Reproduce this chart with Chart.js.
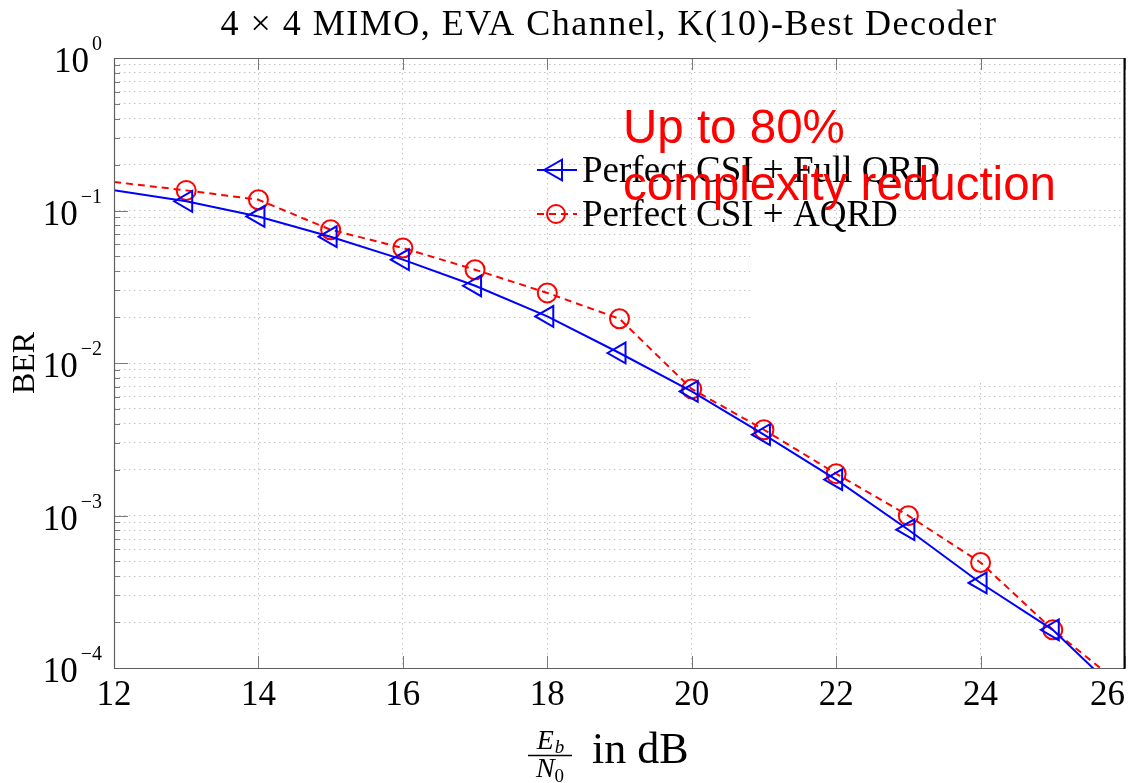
<!DOCTYPE html>
<html><head><meta charset="utf-8">
<script src="https://cdn.jsdelivr.net/npm/chart.js@4.4.1/dist/chart.umd.min.js"></script>
<style>html,body{margin:0;padding:0;background:#fff;} canvas{display:block;}</style>
</head><body>
<canvas id="c" width="1130" height="783"></canvas>
<script>
// ---- data ----
const snrDb = [12, 13, 14, 15, 16, 17, 18, 19, 20, 21, 22, 23, 24, 25, 26];
const berFullQrd = [0.136, 0.1148, 0.0914, 0.0673, 0.0476, 0.0321, 0.0202, 0.01163, 0.00651, 0.00339, 0.00172, 0.000807, 0.000361, 0.000178, 0.000063];
const berAqrd    = [0.1538, 0.1355, 0.1177, 0.0748, 0.0568, 0.0409, 0.0288, 0.0195, 0.00676, 0.00365, 0.00188, 0.000997, 0.000492, 0.000178, 0.000074];
const xTickValues = [12, 14, 16, 18, 20, 22, 24, 26];
const yDecades = [0, -1, -2, -3, -4];
const seriesLabels = ['Perfect CSI + Full QRD', 'Perfect CSI + AQRD'];
const chartTitle = '4 \u00D7 4 MIMO, EVA Channel, K(10)-Best Decoder';
const yAxisTitle = 'BER';
const xAxisUnit = 'in dB';
const annotationLines = ['Up to 80%', 'complexity reduction'];

const serif = "'Liberation Serif', 'Times New Roman', serif";
const sans = "'Liberation Sans', Arial, sans-serif";
const BLUE = '#0000ff', RED = '#ff0000';

const lastIdx = snrDb.length - 1;
const markerRadius = (r) => (c) => (c.dataIndex === 0 || c.dataIndex === lastIdx) ? 0 : r;

function drawTriangleLeft(ctx, cx, cy, r) {
  ctx.beginPath();
  for (let k = 0; k < 3; k++) {
    const a = -Math.PI / 2 + k * 2 * Math.PI / 3;
    const px = cx + Math.sin(a) * r, py = cy - Math.cos(a) * r;
    if (k === 0) ctx.moveTo(px, py); else ctx.lineTo(px, py);
  }
  ctx.closePath(); ctx.stroke();
}
function drawCircle(ctx, cx, cy, r) {
  ctx.beginPath(); ctx.arc(cx, cy, r, 0, Math.PI * 2); ctx.stroke();
}

const decor = {
  id: 'decor',
  beforeDatasetsDraw(chart) {
    const { ctx, chartArea: a } = chart;
    ctx.save();
    ctx.fillStyle = '#fff';
    ctx.fillRect(750, 228, a.right - 1 - 750, 383 - 228);
    ctx.restore();
  },
  afterDatasetsDraw(chart) {
    const { ctx, chartArea: a, scales: { x, y } } = chart;
    ctx.save();
    // inner tick marks
    ctx.strokeStyle = '#7a7a7a'; ctx.lineWidth = 1;
    y.ticks.forEach(t => {
      const py = Math.round(y.getPixelForValue(t.value)) + 0.5;
      const lg = Math.log10(t.value);
      const major = Math.abs(lg - Math.round(lg)) < 1e-9;
      ctx.beginPath(); ctx.moveTo(a.left, py); ctx.lineTo(a.left + (major ? 14 : 6), py); ctx.stroke();
    });
    x.ticks.forEach(t => {
      const px = Math.round(x.getPixelForValue(t.value)) + 0.5;
      ctx.beginPath();
      ctx.moveTo(px, a.bottom); ctx.lineTo(px, a.bottom - 12);
      ctx.moveTo(px, a.top); ctx.lineTo(px, a.top + 12);
      ctx.stroke();
    });
    // box
    ctx.strokeStyle = '#606060'; ctx.lineWidth = 1.2;
    ctx.beginPath();
    ctx.moveTo(a.left + 0.5, a.top + 0.5); ctx.lineTo(a.right, a.top + 0.5);
    ctx.moveTo(a.left + 0.5, a.top); ctx.lineTo(a.left + 0.5, a.bottom + 0.5);
    ctx.lineTo(a.right, a.bottom + 0.5);
    ctx.stroke();
    ctx.strokeStyle = '#000'; ctx.lineWidth = 2;
    ctx.beginPath(); ctx.moveTo(a.right - 0.5, a.top); ctx.lineTo(a.right - 0.5, a.bottom + 1); ctx.stroke();

    // y tick labels 10^k
    ctx.fillStyle = '#000'; ctx.textAlign = 'left'; ctx.textBaseline = 'alphabetic';
    yDecades.forEach(k => {
      const py = y.getPixelForValue(Math.pow(10, k));
      const expTxt = k === 0 ? '0' : '\u2212' + Math.abs(k);
      ctx.font = `20px ${serif}`;
      const ew = ctx.measureText(expTxt).width;
      const ex = 102 - ew;
      ctx.fillText(expTxt, ex, py - 8);
      ctx.font = `35px ${serif}`;
      const bw = ctx.measureText('10').width;
      ctx.fillText('10', ex - 3 - bw, py + 14);
    });
    // x tick labels
    ctx.font = `35px ${serif}`;
    x.ticks.forEach(t => {
      const px = x.getPixelForValue(t.value);
      const s = String(t.value);
      const w = ctx.measureText(s).width;
      const lx = Math.min(px - w / 2, a.right - w);
      ctx.fillText(s, lx, 705);
    });

    // title
    ctx.font = `36px ${serif}`;
    if ('letterSpacing' in ctx) ctx.letterSpacing = '1.5px';
    ctx.textAlign = 'center';
    ctx.fillText(chartTitle, 609, 35);
    if ('letterSpacing' in ctx) ctx.letterSpacing = '0px';

    // y axis title
    ctx.save();
    ctx.translate(26, 363); ctx.rotate(-Math.PI / 2);
    ctx.font = `32px ${serif}`; ctx.textAlign = 'center'; ctx.textBaseline = 'middle';
    ctx.fillText(yAxisTitle, 0, 0);
    ctx.restore();

    // x axis title: Eb/N0 in dB
    ctx.textAlign = 'left';
    const fx0 = 528, fx1 = 572, fc = (fx0 + fx1) / 2;
    ctx.font = `italic 28px ${serif}`; const wE = ctx.measureText('E').width;
    ctx.font = `italic 19px ${serif}`; const wb = ctx.measureText('b').width;
    let sx = fc - (wE + wb) / 2;
    ctx.font = `italic 28px ${serif}`; ctx.fillText('E', sx, 749);
    ctx.font = `italic 19px ${serif}`; ctx.fillText('b', sx + wE + 1, 753);
    ctx.font = `italic 28px ${serif}`; const wN = ctx.measureText('N').width;
    ctx.font = `19px ${serif}`; const w0 = ctx.measureText('0').width;
    sx = fc - (wN + w0) / 2;
    ctx.font = `italic 28px ${serif}`; ctx.fillText('N', sx, 777);
    ctx.font = `19px ${serif}`; ctx.fillText('0', sx + wN, 782);
    ctx.strokeStyle = '#000'; ctx.lineWidth = 1.3;
    ctx.beginPath(); ctx.moveTo(fx0, 755.5); ctx.lineTo(fx1, 755.5); ctx.stroke();
    ctx.font = `44px ${serif}`;
    ctx.fillText(xAxisUnit, 592, 763);

    // legend
    const ds = chart.data.datasets;
    const rows = [170, 214];
    ds.forEach((d, i) => {
      const ly = rows[i];
      ctx.strokeStyle = d.borderColor; ctx.lineWidth = 2;
      ctx.setLineDash(d.borderDash || []);
      ctx.beginPath(); ctx.moveTo(537, ly); ctx.lineTo(577, ly); ctx.stroke();
      ctx.setLineDash([]);
      if (d.pointStyle === 'triangle') drawTriangleLeft(ctx, 556, ly, 12);
      else drawCircle(ctx, 556, ly, 9);
      ctx.fillStyle = '#000'; ctx.font = `37px ${serif}`;
      ctx.fillText(d.label, 582, ly + 12);
    });

    // annotation
    ctx.fillStyle = RED; ctx.font = `47.5px ${sans}`;
    ctx.fillText(annotationLines[0], 623, 143);
    ctx.fillText(annotationLines[1], 623, 200);
    ctx.restore();
  }
};

new Chart(document.getElementById('c'), {
  type: 'line',
  data: {
    datasets: [
      {
        label: seriesLabels[0],
        data: snrDb.map((v, i) => ({ x: v, y: berFullQrd[i] })),
        borderColor: BLUE, backgroundColor: 'rgba(0,0,0,0)', borderWidth: 2,
        pointStyle: 'triangle', pointRotation: -90, pointRadius: markerRadius(12),
        pointBorderColor: BLUE, pointBackgroundColor: 'rgba(0,0,0,0)', pointBorderWidth: 2,
        tension: 0
      },
      {
        label: seriesLabels[1],
        data: snrDb.map((v, i) => ({ x: v, y: berAqrd[i] })),
        borderColor: RED, backgroundColor: 'rgba(0,0,0,0)', borderWidth: 2, borderDash: [7, 5],
        pointStyle: 'circle', pointRadius: markerRadius(9.5),
        pointBorderColor: RED, pointBackgroundColor: 'rgba(0,0,0,0)', pointBorderWidth: 2,
        tension: 0
      }
    ]
  },
  options: {
    responsive: false, animation: false, events: [], devicePixelRatio: 1,
    layout: { padding: { top: 58, right: 5, left: 0, bottom: 0 } },
    plugins: { legend: { display: false }, title: { display: false }, tooltip: { enabled: false } },
    scales: {
      x: {
        type: 'linear', min: 12, max: 26,
        afterBuildTicks: (s) => { s.ticks = xTickValues.map(v => ({ value: v })); },
        afterFit: (s) => { s.height = 115; },
        ticks: { display: false },
        grid: { color: '#c4c4c4', lineWidth: 1, drawTicks: false },
        border: { display: false, dash: [1.5, 3.5] }
      },
      y: {
        type: 'logarithmic', min: 1e-4, max: 1,
        afterBuildTicks: (s) => {
          const t = [];
          yDecades.slice().reverse().forEach(k => {
            for (let m = 1; m <= 9; m++) { const v = m * Math.pow(10, k); if (v <= 1.0000001) t.push({ value: v }); }
          });
          s.ticks = t;
        },
        afterFit: (s) => { s.width = 114; },
        ticks: { display: false },
        grid: { color: '#c4c4c4', lineWidth: 1, drawTicks: false },
        border: { display: false, dash: [1.5, 3.5] }
      }
    }
  },
  plugins: [decor]
});
</script>
</body></html>
